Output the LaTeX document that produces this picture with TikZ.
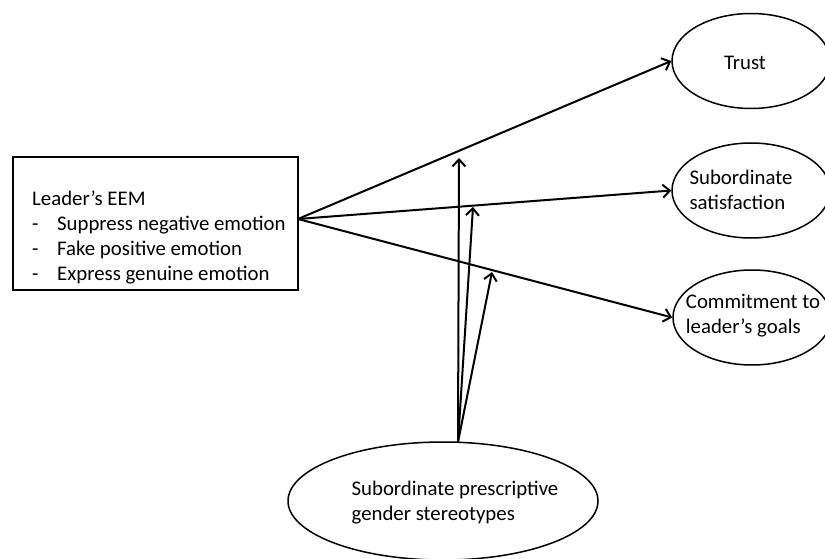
\documentclass[tikz,border=0pt]{standalone}
\usepackage{fontspec}
\setmainfont{Carlito}
\usetikzlibrary{arrows.meta,shapes.geometric}
\begin{document}
\begin{tikzpicture}[x=1pt,y=-1pt,
  every node/.style={font=\fontsize{20.8}{25}\selectfont},
  shapeline/.style={draw=black,line width=1.5pt},
  boxnode/.style={shapeline,rectangle,inner sep=0pt,minimum width=285pt,minimum height=133pt},
  ellnode/.style={shapeline,ellipse,inner sep=0pt},
  lbl/.style={align=left,inner sep=0pt},
  conn/.style={line width=2pt,-{Straight Barb[length=7pt,width=13pt,line width=2pt]}}]
\useasboundingbox (0,0) rectangle (825,559);
\clip (0,0) rectangle (825,559);
\fill[white] (0,0) rectangle (825,559);
% box
\node[boxnode] (eem) at (155.5,223.5) {};
\node[lbl,anchor=north west] (eemtxt) at (32,191)
  {Leader’s EEM\\
   \makebox[25pt][l]{-}Suppress negative emotion\\
   \makebox[25pt][l]{-}Fake positive emotion\\
   \makebox[25pt][l]{-}Express genuine emotion};
% outcome ellipses
\node[ellnode,minimum width=158pt,minimum height=95pt] (trust) at (751,61) {};
\node[lbl] (trusttxt) at (745,63) {Trust};
\node[ellnode,minimum width=158pt,minimum height=95pt] (sat) at (751,190.5) {};
\node[lbl] (sattxt) at (741,190) {Subordinate\\satisfaction};
\node[ellnode,minimum width=158pt,minimum height=95pt] (com) at (752,317.5) {};
\node[lbl] (comtxt) at (753,316) {Commitment to\\leader’s goals};
% moderator
\node[ellnode,minimum width=310pt,minimum height=118pt] (mod) at (443,501) {};
\node[lbl] (modtxt) at (455,503) {Subordinate prescriptive\\gender stereotypes};
% coordinates
\coordinate (src) at (298,219);
\coordinate (msrc) at (458,442);
\coordinate (m1) at (459,158);
\coordinate (m2) at (473,207);
\coordinate (m3) at (492,272);
% connectors
\draw[conn] (src) -- (trust.west);
\draw[conn] (src) -- (sat.west);
\draw[conn] (src) -- (com.west);
\draw[conn] (msrc) -- (m1);
\draw[conn] (msrc) -- (m2);
\draw[conn] (msrc) -- (m3);
\end{tikzpicture}
\end{document}
